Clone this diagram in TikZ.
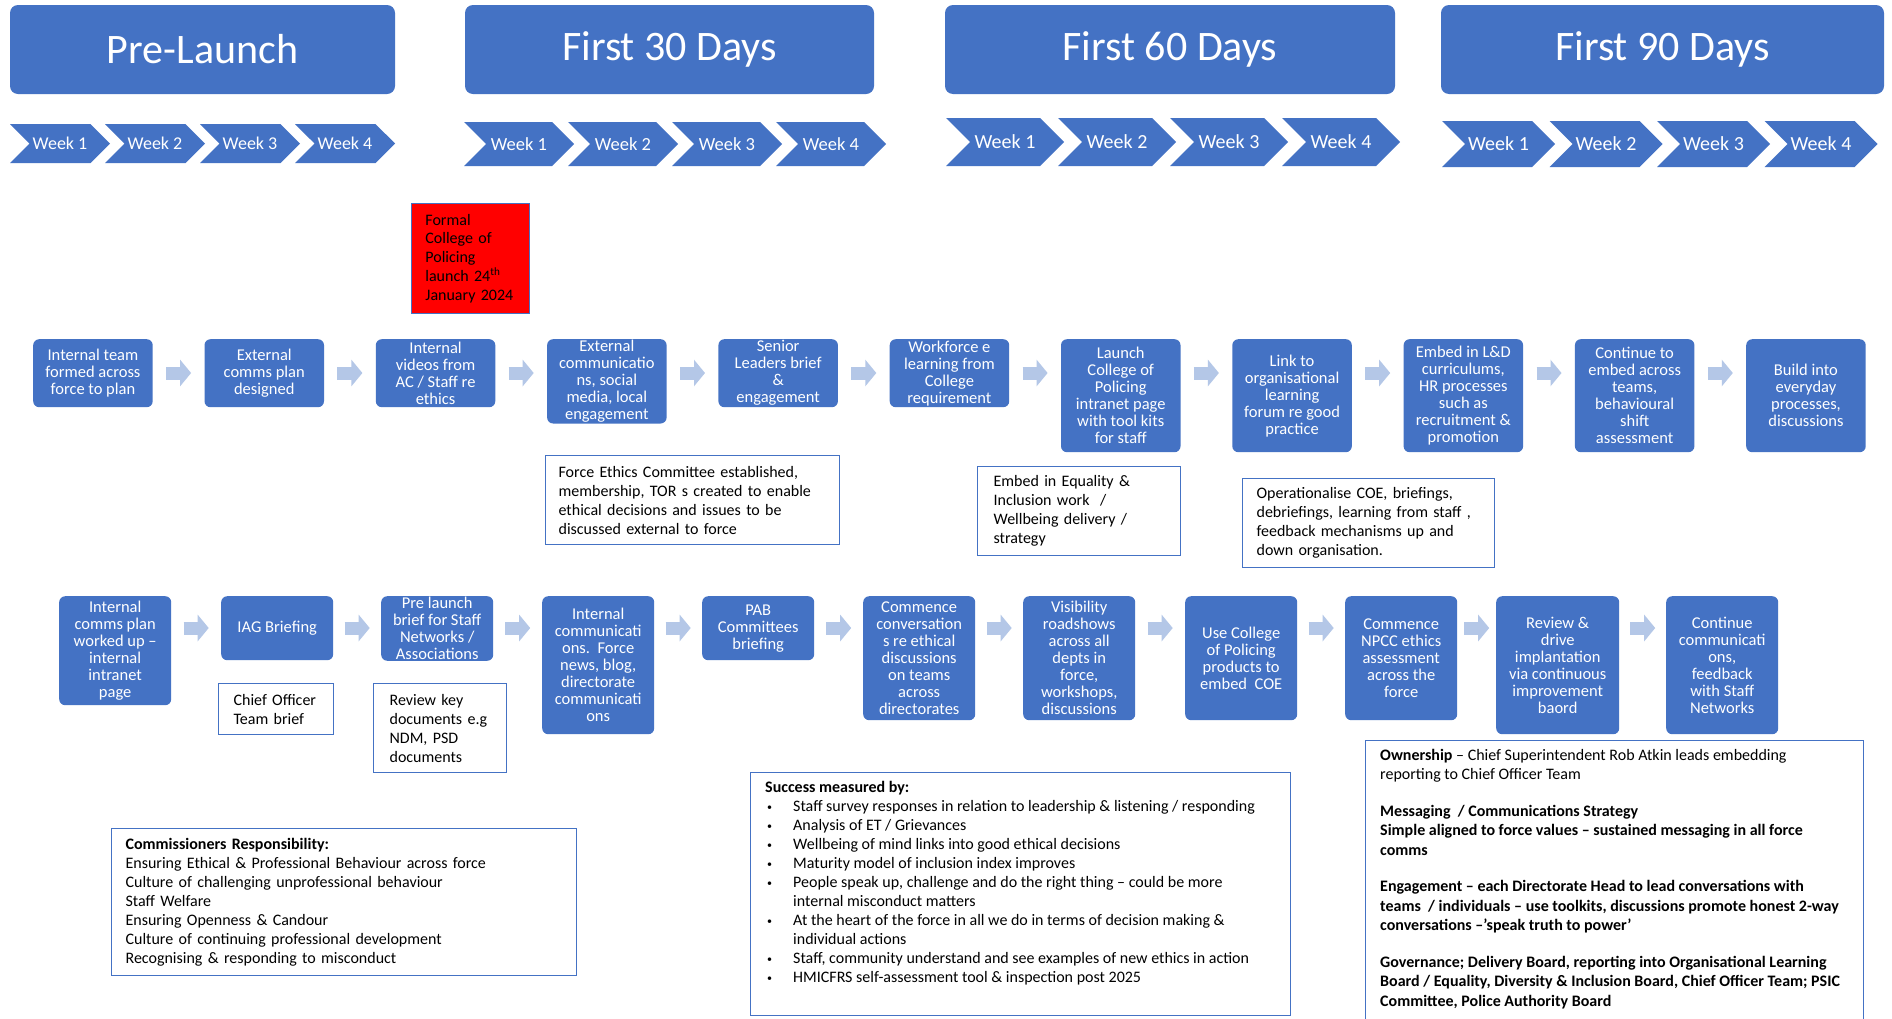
\documentclass[tikz,border=0pt]{standalone}
\usepackage{fontspec}
\setmainfont{Carlito}
\usetikzlibrary{shapes.symbols,arrows.meta,calc}
\definecolor{cblue}{HTML}{4472C4}
\definecolor{cflow}{HTML}{B4C7E7}
\definecolor{cline}{HTML}{4472C4}
\definecolor{cred}{HTML}{FF0000}
\newcommand\sbul{\makebox[28pt][l]{\hspace{2pt}\raisebox{1pt}{\fontsize{10}{10}\selectfont\textbullet}}}
\newcommand\sind{\hspace*{28pt}}
\tikzset{
  phase/.style={fill=cblue, rounded corners=8pt, text=white, inner sep=0pt,
    minimum height=89pt, font=\fontsize{42}{50}\selectfont},
  weekchev/.style={signal, signal from=west, signal to=east, fill=cblue,
    text=white, inner sep=0pt},
  wka/.style={weekchev, minimum width=100pt, minimum height=39pt, font=\fontsize{18}{20}\selectfont},
  wkb/.style={weekchev, minimum width=110pt, minimum height=44pt, font=\fontsize{18.5}{20}\selectfont},
  wkc/.style={weekchev, minimum width=118pt, minimum height=48pt, font=\fontsize{20}{22}\selectfont},
  wkd/.style={weekchev, minimum width=113pt, minimum height=46pt, font=\fontsize{20}{22}\selectfont},
  stepbox/.style={fill=cblue, rounded corners=6pt, text=white, align=center,
    anchor=north west, inner sep=1pt, font=\fontsize{16.5}{17}\selectfont},
  rowa/.style={stepbox, minimum width=119.5pt},
  rowb/.style={stepbox, minimum width=112pt},
  notebox/.style={draw=cline, line width=1.2pt, fill=white, align=left,
    anchor=north west, font=\fontsize{16}{19}\selectfont},
  flow/.style={draw=cflow, line width=13pt, -{Triangle[length=11pt,width=26pt]}}
}
\begin{document}
\begin{tikzpicture}[x=1pt,y=-1pt]
  \useasboundingbox (0,0) rectangle (1892,1018);
  \clip (0,0) rectangle (1892,1018);
  \fill[white] (0,0) rectangle (1892,1018);

  \node[phase, minimum width=385pt] (pre) at (202.5,49.5) {Pre-Launch};
  \node[phase, minimum width=409pt] (d30) at (669.5,49.5) {First 30 Days};
  \node[phase, minimum width=450pt] (d60) at (1170,49.5) {First 60 Days};
  \node[phase, minimum width=443pt] (d90) at (1662.5,49.5) {First 90 Days};

  \node[wka] (pw1) at (60,143.5) {Week 1};
  \node[wka] (pw2) at (155,143.5) {Week 2};
  \node[wka] (pw3) at (250,143.5) {Week 3};
  \node[wka] (pw4) at (345,143.5) {Week 4};
  \node[wkb] (aw1) at (519,144) {Week 1};
  \node[wkb] (aw2) at (623,144) {Week 2};
  \node[wkb] (aw3) at (727,144) {Week 3};
  \node[wkb] (aw4) at (831,144) {Week 4};
  \node[wkc] (bw1) at (1005,142) {Week 1};
  \node[wkc] (bw2) at (1117,142) {Week 2};
  \node[wkc] (bw3) at (1229,142) {Week 3};
  \node[wkc] (bw4) at (1341,142) {Week 4};
  \node[wkd] (cw1) at (1498.5,144) {Week 1};
  \node[wkd] (cw2) at (1606,144) {Week 2};
  \node[wkd] (cw3) at (1713.5,144) {Week 3};
  \node[wkd] (cw4) at (1821,144) {Week 4};

  \node[draw=cline, line width=0.8pt, fill=cred, anchor=north west, align=left,
    minimum height=110pt, text width=90pt, inner xsep=14pt,
    font=\fontsize{16}{18.7}\selectfont] (launch) at (411,203)
    {Formal\\College of\\Policing\\launch 24\textsuperscript{th}\\January 2024};

  \node[rowa, minimum height=68pt] (a1) at (33,339) {Internal team\\formed across\\force to plan};
  \node[rowa, minimum height=68pt] (a2) at (204.3,339) {External\\comms plan\\designed};
  \node[rowa, minimum height=68pt] (a3) at (375.6,339) {Internal\\videos from\\AC / Staff re\\ethics};
  \node[rowa, minimum height=82pt] (a4) at (546.9,339) {External\\communicatio\\ns, social\\media, local\\engagement};
  \node[rowa, minimum height=68pt] (a5) at (718.2,339) {Senior\\Leaders brief\\\&\\engagement};
  \node[rowa, minimum height=68pt] (a6) at (889.5,339) {Workforce e\\learning from\\College\\requirement};
  \node[rowa, minimum height=113pt] (a7) at (1060.8,339) {Launch\\College of\\Policing\\intranet page\\with tool kits\\for staff};
  \node[rowa, minimum height=113pt] (a8) at (1232.1,339) {Link to\\organisational\\learning\\forum re good\\practice};
  \node[rowa, minimum height=113pt] (a9) at (1403.4,339) {Embed in L\&D\\curriculums,\\HR processes\\such as\\recruitment \&\\promotion};
  \node[rowa, minimum height=113pt] (a10) at (1574.7,339) {Continue to\\embed across\\teams,\\behavioural\\shift\\assessment};
  \node[rowa, minimum height=113pt] (a11) at (1746,339) {Build into\\everyday\\processes,\\discussions};

  \node[rowb, minimum height=109pt] (b1) at (59,596) {Internal\\comms plan\\worked up --\\internal\\intranet\\page};
  \node[rowb, minimum height=64pt] (b2) at (221,596) {IAG Briefing};
  \node[rowb, minimum height=64pt] (b3) at (381,596) {Pre launch\\brief for Staff\\Networks /\\Associations};
  \node[rowb, minimum height=138pt] (b4) at (542,596) {Internal\\communicati\\ons.\ \ Force\\news, blog,\\directorate\\communicati\\ons};
  \node[rowb, minimum height=64pt] (b5) at (702,596) {PAB\\Committees\\briefing};
  \node[rowb, minimum height=124pt] (b6) at (863,596) {Commence\\conversation\\s re ethical\\discussions\\on teams\\across\\directorates};
  \node[rowb, minimum height=124pt] (b7) at (1023,596) {Visibility\\roadshows\\across all\\depts in\\force,\\workshops,\\discussions};
  \node[rowb, minimum height=124pt] (b8) at (1185,596) {Use College\\of Policing\\products to\\embed\ \ COE};
  \node[rowb, minimum height=124pt] (b9) at (1345,596) {Commence\\NPCC ethics\\assessment\\across the\\force};
  \node[rowb, minimum width=123pt, minimum height=138pt] (b10) at (1496,596) {Review \&\\drive\\implantation\\via continuous\\improvement\\baord};
  \node[rowb, minimum height=138pt] (b11) at (1666,596) {Continue\\communicati\\ons,\\feedback\\with Staff\\Networks};

  \begin{scope}[flow]
    \draw ($(a1.north east)!0.5!(a2.north west)+(-12.5,34)$) -- ++(25,0);
    \draw ($(a2.north east)!0.5!(a3.north west)+(-12.5,34)$) -- ++(25,0);
    \draw ($(a3.north east)!0.5!(a4.north west)+(-12.5,34)$) -- ++(25,0);
    \draw ($(a4.north east)!0.5!(a5.north west)+(-12.5,34)$) -- ++(25,0);
    \draw ($(a5.north east)!0.5!(a6.north west)+(-12.5,34)$) -- ++(25,0);
    \draw ($(a6.north east)!0.5!(a7.north west)+(-12.5,34)$) -- ++(25,0);
    \draw ($(a7.north east)!0.5!(a8.north west)+(-12.5,34)$) -- ++(25,0);
    \draw ($(a8.north east)!0.5!(a9.north west)+(-12.5,34)$) -- ++(25,0);
    \draw ($(a9.north east)!0.5!(a10.north west)+(-12.5,34)$) -- ++(25,0);
    \draw ($(a10.north east)!0.5!(a11.north west)+(-12.5,34)$) -- ++(25,0);
    \draw ($(b1.north east)!0.5!(b2.north west)+(-12.5,32)$) -- ++(25,0);
    \draw ($(b2.north east)!0.5!(b3.north west)+(-12.5,32)$) -- ++(25,0);
    \draw ($(b3.north east)!0.5!(b4.north west)+(-12.5,32)$) -- ++(25,0);
    \draw ($(b4.north east)!0.5!(b5.north west)+(-12.5,32)$) -- ++(25,0);
    \draw ($(b5.north east)!0.5!(b6.north west)+(-12.5,32)$) -- ++(25,0);
    \draw ($(b6.north east)!0.5!(b7.north west)+(-12.5,32)$) -- ++(25,0);
    \draw ($(b7.north east)!0.5!(b8.north west)+(-12.5,32)$) -- ++(25,0);
    \draw ($(b8.north east)!0.5!(b9.north west)+(-12.5,32)$) -- ++(25,0);
    \draw ($(b9.north east)!0.5!(b10.north west)+(-12.5,32)$) -- ++(25,0);
    \draw ($(b10.north east)!0.5!(b11.north west)+(-12.5,32)$) -- ++(25,0);
  \end{scope}

  \node[notebox, minimum height=89pt, text width=268pt, inner xsep=13pt] (ethics) at (545,455)
    {Force Ethics Committee established,\\membership, TOR s created to enable\\ethical decisions and issues to be\\discussed external to force};
  \node[notebox, minimum height=89pt, text width=171pt, inner xsep=16pt] (equal) at (977,466)
    {Embed in Equality \&\\Inclusion work\ \ /\\Wellbeing delivery /\\strategy};
  \node[notebox, minimum height=89pt, text width=224pt, inner xsep=14pt] (coe) at (1242,478)
    {Operationalise COE, briefings,\\debriefings, learning from staff ,\\feedback mechanisms up and\\down organisation.};
  \node[notebox, minimum height=51pt, text width=85pt, inner xsep=15pt] (cot) at (218,683)
    {Chief Officer\\Team brief};
  \node[notebox, minimum height=89pt, text width=101pt, inner xsep=16pt] (keydocs) at (373,683)
    {Review key\\documents e.g\\NDM, PSD\\documents};
  \node[notebox, minimum height=147pt, text width=437pt, inner xsep=14pt] (comm) at (111,828)
    {\textbf{Commissioners Responsibility:}\\Ensuring Ethical \& Professional Behaviour across force\\Culture of challenging unprofessional behaviour\\Staff Welfare\\Ensuring Openness \& Candour\\Culture of continuing professional development\\Recognising \& responding to misconduct};

  \node[notebox, minimum width=540pt, minimum height=243pt, inner sep=0pt] (success) at (750,772) {};
  \node[anchor=north west, inner sep=0pt, align=left, font=\fontsize{16}{19}\selectfont] (successtxt)
    at ([xshift=15pt,yshift=-9pt]success.north west)
    {\textbf{Success measured by:}\\
     \sbul Staff survey responses in relation to leadership \& listening / responding\\
     \sbul Analysis of ET / Grievances\\
     \sbul Wellbeing of mind links into good ethical decisions\\
     \sbul Maturity model of inclusion index improves\\
     \sbul People speak up, challenge and do the right thing -- could be more\\
     \sind internal misconduct matters\\
     \sbul At the heart of the force in all we do in terms of decision making \&\\
     \sind individual actions\\
     \sbul Staff, community understand and see examples of new ethics in action\\
     \sbul HMICFRS self-assessment tool \& inspection post 2025};

  \node[notebox, minimum width=498pt, minimum height=300pt, inner sep=0pt] (owner) at (1365,740) {};
  \node[anchor=north west, inner sep=0pt, align=left, font=\fontsize{16}{19.5}\selectfont] (ownertxt)
    at ([xshift=15pt,yshift=-9pt]owner.north west)
    {\textbf{Ownership} -- Chief Superintendent Rob Atkin leads embedding\\
     reporting to Chief Officer Team\\[17pt]
     \textbf{Messaging\ \ / Communications Strategy}\\
     \textbf{Simple aligned to force values -- sustained messaging in all force}\\
     \textbf{comms}\\[17pt]
     \textbf{Engagement -- each Directorate Head to lead conversations with}\\
     \textbf{teams\ \ / individuals -- use toolkits, discussions promote honest 2-way}\\
     \textbf{conversations --’speak truth to power’}\\[17pt]
     \textbf{Governance; Delivery Board, reporting into Organisational Learning}\\
     \textbf{Board / Equality, Diversity \& Inclusion Board, Chief Officer Team; PSIC}\\
     \textbf{Committee, Police Authority Board}};
\end{tikzpicture}
\end{document}
